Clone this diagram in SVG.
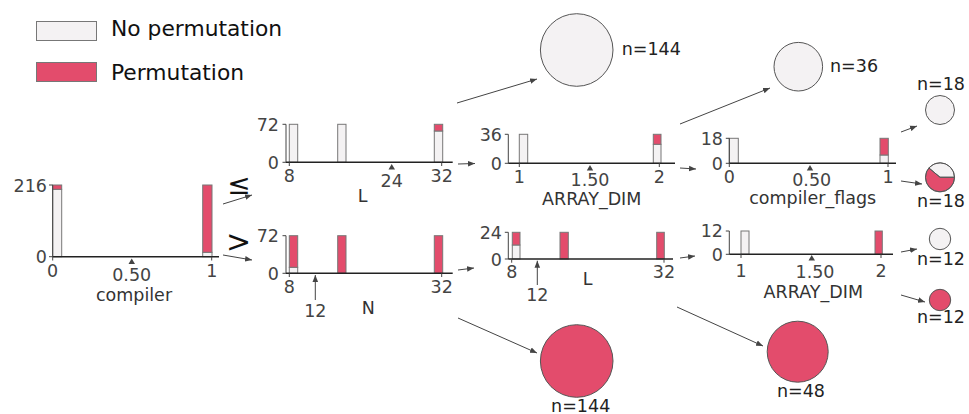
<svg xmlns="http://www.w3.org/2000/svg" width="969" height="414" viewBox="0 0 969 414">
<defs>
<style>
text{font-family:"DejaVu Sans",sans-serif;}
.tk{font-size:17.5px;fill:#444;}
.ax{font-size:17.5px;fill:#333;text-anchor:middle;}
.lg{font-size:21.8px;fill:#111;}
.nl{font-size:17.5px;fill:#222;}
.no{fill:#f4f2f3;stroke:#777;stroke-width:1;}
.pm{fill:#e34c6c;stroke:#777;stroke-width:1;}
.base{stroke:#222;stroke-width:1.6;}
.yax{stroke:#444;stroke-width:1;}
.tri{fill:#444;}
.cn{stroke:#444;stroke-width:1;fill:none;marker-end:url(#ah);}
.leaf{stroke:#555;stroke-width:1;}
</style>
<marker id="ah" viewBox="0 0 10 10" refX="10" refY="5" markerWidth="7" markerHeight="7" orient="auto" markerUnits="userSpaceOnUse">
<path d="M0,1 L10,5 L0,9 Z" fill="#444"/>
</marker>
</defs>
<rect width="969" height="414" fill="#fff"/>

<g id="legend">
<rect x="36.5" y="21.5" width="60" height="19" class="no" stroke="#555"/>
<text x="111" y="36" class="lg">No permutation</text>
<rect x="36.5" y="62.5" width="60" height="19" class="pm" stroke="#555"/>
<text x="111" y="80" class="lg">Permutation</text>
</g>

<g id="node-compiler">
<rect x="52.7" y="189.3" width="9" height="67.4" class="no"/>
<rect x="52.7" y="185" width="9" height="4.3" class="pm"/>
<rect x="202.7" y="252.3" width="9.3" height="4.4" class="no"/>
<rect x="202.7" y="185" width="9.3" height="67.3" class="pm"/>
<line x1="52.7" y1="185" x2="52.7" y2="256.7" class="yax"/>
<line x1="49" y1="185" x2="52.7" y2="185" class="yax"/>
<line x1="49" y1="256.7" x2="52.7" y2="256.7" class="yax"/>
<line x1="52.7" y1="256.7" x2="219" y2="256.7" class="base"/>
<line x1="52.7" y1="256.7" x2="52.7" y2="260.5" class="yax"/>
<line x1="211.7" y1="256.7" x2="211.7" y2="260.5" class="yax"/>
<text x="47" y="192" class="tk" text-anchor="end">216</text>
<text x="47" y="263" class="tk" text-anchor="end">0</text>
<text x="52.5" y="277" class="tk" text-anchor="middle">0</text>
<text x="131.7" y="281" class="tk" text-anchor="middle">0.50</text>
<text x="211.7" y="277" class="tk" text-anchor="middle">1</text>
<path d="M131.7,258.5 L128.5,264 L135,264 Z" class="tri"/>
<text x="134" y="301" class="ax">compiler</text>
</g>

<g id="node-L-top">
<rect x="289.3" y="124.3" width="8.4" height="38" class="no"/>
<rect x="337.7" y="124.3" width="8.3" height="38" class="no"/>
<rect x="434.3" y="131" width="8.4" height="31.3" class="no"/>
<rect x="434.3" y="124.3" width="8.4" height="6.7" class="pm"/>
<line x1="286" y1="124.3" x2="286" y2="162.3" class="yax"/>
<line x1="282.5" y1="124.3" x2="286" y2="124.3" class="yax"/>
<line x1="282.5" y1="162.3" x2="286" y2="162.3" class="yax"/>
<line x1="286" y1="162.3" x2="452.7" y2="162.3" class="base"/>
<line x1="289.3" y1="162.3" x2="289.3" y2="166" class="yax"/>
<line x1="441.7" y1="162.3" x2="441.7" y2="166" class="yax"/>
<text x="279" y="130.5" class="tk" text-anchor="end">72</text>
<text x="279" y="168.5" class="tk" text-anchor="end">0</text>
<text x="289.3" y="182" class="tk" text-anchor="middle">8</text>
<text x="391.7" y="187" class="tk" text-anchor="middle">24</text>
<text x="441.7" y="182" class="tk" text-anchor="middle">32</text>
<path d="M391.7,164 L388.5,169.5 L395,169.5 Z" class="tri"/>
<text x="362.7" y="202" class="ax">L</text>
</g>

<g id="node-N-bottom">
<rect x="289.3" y="267.3" width="8.4" height="6" class="no"/>
<rect x="289.3" y="235.7" width="8.4" height="31.6" class="pm"/>
<rect x="337.7" y="235.7" width="8.3" height="37.6" class="pm"/>
<rect x="434.3" y="235.7" width="8.4" height="37.6" class="pm"/>
<line x1="286" y1="235.7" x2="286" y2="273.3" class="yax"/>
<line x1="282.5" y1="235.7" x2="286" y2="235.7" class="yax"/>
<line x1="282.5" y1="273.3" x2="286" y2="273.3" class="yax"/>
<line x1="286" y1="273.3" x2="452.7" y2="273.3" class="base"/>
<line x1="289.3" y1="273.3" x2="289.3" y2="277" class="yax"/>
<line x1="441.7" y1="273.3" x2="441.7" y2="277" class="yax"/>
<text x="279" y="242" class="tk" text-anchor="end">72</text>
<text x="279" y="280" class="tk" text-anchor="end">0</text>
<text x="289.3" y="293.3" class="tk" text-anchor="middle">8</text>
<text x="441.7" y="293.3" class="tk" text-anchor="middle">32</text>
<line x1="315.3" y1="300" x2="315.3" y2="275" class="cn"/>
<text x="315.3" y="317.3" class="tk" text-anchor="middle">12</text>
<text x="368.3" y="314.3" class="ax">N</text>
</g>

<g id="node-ARRAY_DIM-top">
<rect x="519.3" y="134.3" width="8.4" height="29" class="no"/>
<rect x="653.3" y="144.3" width="7.7" height="19" class="no"/>
<rect x="653.3" y="134.3" width="7.7" height="10" class="pm"/>
<line x1="508.3" y1="134.3" x2="508.3" y2="163.3" class="yax"/>
<line x1="504.8" y1="134.3" x2="508.3" y2="134.3" class="yax"/>
<line x1="504.8" y1="163.3" x2="508.3" y2="163.3" class="yax"/>
<line x1="508.3" y1="163.3" x2="675" y2="163.3" class="base"/>
<line x1="519.3" y1="163.3" x2="519.3" y2="167" class="yax"/>
<line x1="659.3" y1="163.3" x2="659.3" y2="167" class="yax"/>
<text x="502" y="140.5" class="tk" text-anchor="end">36</text>
<text x="502" y="169.5" class="tk" text-anchor="end">0</text>
<text x="519.3" y="183.3" class="tk" text-anchor="middle">1</text>
<text x="590" y="185.7" class="tk" text-anchor="middle">1.50</text>
<text x="659.3" y="183.3" class="tk" text-anchor="middle">2</text>
<path d="M590,165 L586.8,170.5 L593.2,170.5 Z" class="tri"/>
<text x="591.7" y="204.5" class="ax">ARRAY_DIM</text>
</g>

<g id="node-L-bottom">
<rect x="512.3" y="245" width="7.7" height="14" class="no"/>
<rect x="512.3" y="232.3" width="7.7" height="12.7" class="pm"/>
<rect x="560" y="232.3" width="8.3" height="26.7" class="pm"/>
<rect x="656.7" y="232.3" width="7.6" height="26.7" class="pm"/>
<line x1="508.3" y1="232.3" x2="508.3" y2="259" class="yax"/>
<line x1="504.8" y1="232.3" x2="508.3" y2="232.3" class="yax"/>
<line x1="504.8" y1="259" x2="508.3" y2="259" class="yax"/>
<line x1="508.3" y1="259" x2="673" y2="259" class="base"/>
<line x1="511.7" y1="259" x2="511.7" y2="262.7" class="yax"/>
<line x1="664" y1="259" x2="664" y2="262.7" class="yax"/>
<text x="502" y="238.5" class="tk" text-anchor="end">24</text>
<text x="502" y="265.5" class="tk" text-anchor="end">0</text>
<text x="511.7" y="278.3" class="tk" text-anchor="middle">8</text>
<text x="664" y="278.3" class="tk" text-anchor="middle">32</text>
<line x1="537.3" y1="285" x2="537.3" y2="260.7" class="cn"/>
<text x="537.3" y="301" class="tk" text-anchor="middle">12</text>
<text x="587.7" y="285" class="ax">L</text>
</g>

<g id="node-compiler_flags">
<rect x="729.3" y="138.3" width="9" height="25" class="no"/>
<rect x="880" y="155" width="8.3" height="8.3" class="no"/>
<rect x="880" y="138.3" width="8.3" height="16.7" class="pm"/>
<line x1="729.3" y1="138.3" x2="729.3" y2="163.3" class="yax"/>
<line x1="725.8" y1="138.3" x2="729.3" y2="138.3" class="yax"/>
<line x1="725.8" y1="163.3" x2="729.3" y2="163.3" class="yax"/>
<line x1="729.3" y1="163.3" x2="896" y2="163.3" class="base"/>
<line x1="729.3" y1="163.3" x2="729.3" y2="167" class="yax"/>
<line x1="888" y1="163.3" x2="888" y2="167" class="yax"/>
<text x="723" y="144.5" class="tk" text-anchor="end">18</text>
<text x="723" y="169.5" class="tk" text-anchor="end">0</text>
<text x="729.3" y="183.3" class="tk" text-anchor="middle">0</text>
<text x="811.7" y="185.7" class="tk" text-anchor="middle">0.50</text>
<text x="888" y="183.3" class="tk" text-anchor="middle">1</text>
<path d="M810,165 L806.8,170.5 L813.2,170.5 Z" class="tri"/>
<text x="812.7" y="204" class="ax">compiler_flags</text>
</g>

<g id="node-ARRAY_DIM-bottom">
<rect x="741" y="231" width="8" height="23.3" class="no"/>
<rect x="875" y="231" width="7.3" height="23.3" class="pm"/>
<line x1="729.3" y1="231" x2="729.3" y2="254.3" class="yax"/>
<line x1="725.8" y1="231" x2="729.3" y2="231" class="yax"/>
<line x1="725.8" y1="254.3" x2="729.3" y2="254.3" class="yax"/>
<line x1="729.3" y1="254.3" x2="893" y2="254.3" class="base"/>
<line x1="741" y1="254.3" x2="741" y2="258" class="yax"/>
<line x1="881" y1="254.3" x2="881" y2="258" class="yax"/>
<text x="723" y="237" class="tk" text-anchor="end">12</text>
<text x="723" y="260.5" class="tk" text-anchor="end">0</text>
<text x="741" y="276.7" class="tk" text-anchor="middle">1</text>
<text x="815" y="278" class="tk" text-anchor="middle">1.50</text>
<text x="881" y="276.7" class="tk" text-anchor="middle">2</text>
<path d="M811.7,255 L808.5,260.5 L815,260.5 Z" class="tri"/>
<text x="813.3" y="298.3" class="ax">ARRAY_DIM</text>
</g>

<g id="leaf-144-top">
<circle cx="576.7" cy="50" r="36.3" class="no leaf"/>
<text x="621.7" y="55" class="nl">n=144</text>
</g>
<g id="leaf-36">
<circle cx="798.3" cy="66.7" r="24.3" class="no leaf"/>
<text x="830" y="72" class="nl">n=36</text>
</g>
<g id="leaf-144-bottom">
<circle cx="576.7" cy="361" r="36.3" class="pm leaf"/>
<text x="580.7" y="411.5" class="nl" text-anchor="middle">n=144</text>
</g>
<g id="leaf-48">
<circle cx="797.7" cy="351.7" r="30.5" class="pm leaf"/>
<text x="801" y="396.7" class="nl" text-anchor="middle">n=48</text>
</g>
<g id="leaf-18-top">
<text x="941" y="90" class="nl" text-anchor="middle">n=18</text>
<circle cx="940" cy="110" r="14.5" class="no leaf"/>
</g>
<g id="leaf-18-bottom">
<path d="M940,177.3 L954.5,177.3 A14.5,14.5 0 0 0 928.9,168 Z" class="no" stroke="none"/>
<path d="M940,177.3 L928.9,168 A14.5,14.5 0 1 0 954.5,177.3 Z" class="pm" stroke="none"/>
<path d="M954.5,177.3 L940,177.3 L928.9,168" fill="none" stroke="#555" stroke-width="1"/>
<circle cx="940" cy="177.3" r="14.5" fill="none" class="leaf"/>
<text x="941" y="206.7" class="nl" text-anchor="middle">n=18</text>
</g>
<g id="leaf-12-top">
<circle cx="940" cy="239" r="10.7" class="no leaf"/>
<text x="941" y="265" class="nl" text-anchor="middle">n=12</text>
</g>
<g id="leaf-12-bottom">
<circle cx="940" cy="300" r="10.7" class="pm leaf"/>
<text x="941" y="323.3" class="nl" text-anchor="middle">n=12</text>
</g>

<g id="connectors">
<line x1="223" y1="204" x2="252" y2="195" class="cn"/>
<line x1="223" y1="255" x2="252" y2="260" class="cn"/>
<text x="239" y="194" font-size="28" fill="#111" text-anchor="middle">≤</text>
<text x="238.5" y="252" font-size="30" fill="#111" text-anchor="middle">&gt;</text>
<line x1="457" y1="103" x2="537" y2="79" class="cn"/>
<line x1="458" y1="164" x2="475" y2="163.5" class="cn"/>
<line x1="458" y1="270" x2="474" y2="268" class="cn"/>
<line x1="458" y1="318" x2="537" y2="353" class="cn"/>
<line x1="680" y1="124" x2="770" y2="88" class="cn"/>
<line x1="680" y1="168" x2="696" y2="169" class="cn"/>
<line x1="680" y1="258" x2="695" y2="256" class="cn"/>
<line x1="677" y1="307" x2="763" y2="346" class="cn"/>
<line x1="901" y1="132" x2="917" y2="126" class="cn"/>
<line x1="901" y1="181" x2="922" y2="184" class="cn"/>
<line x1="901" y1="252" x2="917" y2="249" class="cn"/>
<line x1="901" y1="295" x2="925" y2="302" class="cn"/>
</g>
</svg>
